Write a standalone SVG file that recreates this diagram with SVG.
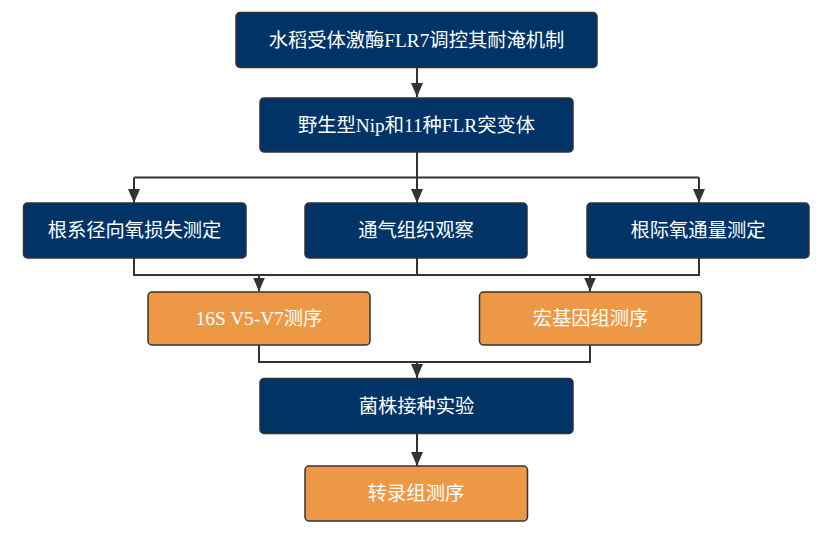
<svg xmlns="http://www.w3.org/2000/svg" width="828" height="538" viewBox="0 0 828 538">
<style>
.b{fill:#003366;stroke:#333333;stroke-width:1.5}
.o{fill:#ED9845;stroke:#333333;stroke-width:1.5}
.t{fill:#ffffff;font-family:"Liberation Serif","Noto Sans CJK SC",serif;font-size:19.3px;text-anchor:middle;dominant-baseline:central}
.c{fill:none;stroke:#333333;stroke-width:2}
.a{fill:none;stroke:#333333;stroke-width:2;marker-end:url(#ah)}
</style>
<defs>
<marker id="ah" markerUnits="userSpaceOnUse" markerWidth="14" markerHeight="12" viewBox="0 0 14 12" refX="14" refY="6" orient="auto">
<path d="M0,0 L14,6 L0,12 Z" fill="#333333"/>
</marker>
</defs>
<rect width="828" height="538" fill="#ffffff"/>
<g id="connectors">
<path class="a" d="M417,68 V97"/>
<path class="c" d="M417,152 V177.5 M134,177.5 H699"/>
<path class="a" d="M134,177.5 V203"/>
<path class="a" d="M417,177.5 V203"/>
<path class="a" d="M699,177.5 V203"/>
<path class="c" d="M134,258 V275 H699 V258 M417,258 V275"/>
<path class="a" d="M259,275 V291.5"/>
<path class="a" d="M590,275 V291.5"/>
<path class="c" d="M259,345 V362 H590 V345"/>
<path class="a" d="M417,362 V378"/>
<path class="a" d="M417,433 V466"/>
</g>
<g id="n1"><rect class="b" x="236" y="12.5" width="361" height="55" rx="4"/><text class="t" x="416.5" y="40">水稻受体激酶FLR7调控其耐淹机制</text></g>
<g id="n2"><rect class="b" x="260" y="98" width="313" height="54" rx="4"/><text class="t" x="416.5" y="125">野生型Nip和11种FLR突变体</text></g>
<g id="n3"><rect class="b" x="23.5" y="203" width="222.5" height="55" rx="4"/><text class="t" x="134.5" y="230.5">根系径向氧损失测定</text></g>
<g id="n4"><rect class="b" x="305" y="203" width="222" height="55" rx="4"/><text class="t" x="416" y="230.5">通气组织观察</text></g>
<g id="n5"><rect class="b" x="587" y="203" width="222" height="55" rx="4"/><text class="t" x="698" y="230.5">根际氧通量测定</text></g>
<g id="n6"><rect class="o" x="148" y="292" width="222" height="53" rx="4"/><text class="t" x="259" y="318.5">16S V5-V7测序</text></g>
<g id="n7"><rect class="o" x="479.5" y="292" width="222" height="53" rx="4"/><text class="t" x="590.5" y="318.5">宏基因组测序</text></g>
<g id="n8"><rect class="b" x="260" y="378.5" width="313" height="55" rx="4"/><text class="t" x="416.5" y="406">菌株接种实验</text></g>
<g id="n9"><rect class="o" x="305" y="466" width="222.5" height="55" rx="4"/><text class="t" x="416" y="493.5">转录组测序</text></g>
</svg>
